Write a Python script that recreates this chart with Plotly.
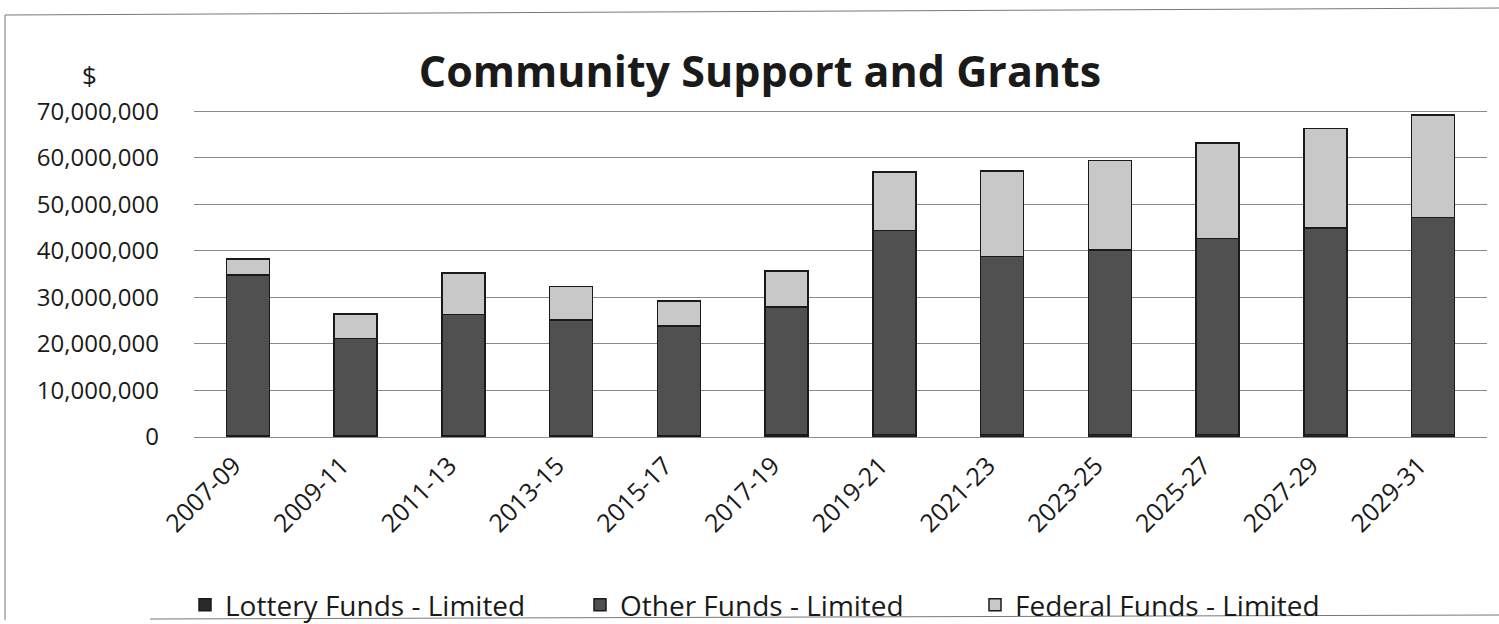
import plotly.graph_objects as go

categories = ["2007-09", "2009-11", "2011-13", "2013-15", "2015-17", "2017-19",
              "2019-21", "2021-23", "2023-25", "2025-27", "2027-29", "2029-31"]

# values in dollars
lottery_funds = [300000, 300000, 300000, 300000, 300000, 400000,
                 500000, 500000, 500000, 500000, 500000, 500000]
other_funds = [34500000, 20900000, 26000000, 24900000, 23600000, 27500000,
               43900000, 38300000, 39700000, 42200000, 44400000, 46700000]
federal_funds = [3500000, 5200000, 9000000, 7200000, 5300000, 7800000,
                 12600000, 18400000, 19200000, 20500000, 21400000, 22000000]

series_names = ["Lottery Funds - Limited", "Other Funds - Limited", "Federal Funds - Limited"]
series_colors = ["#2a2a2a", "#505050", "#c8c8c8"]

FONT = "Open Sans"

# plot-area geometry in pixels (used only to place paper-coordinate decorations)
W, H = 1499, 624
L, R, T, B = 194, 12, 110, 187
PW = W - L - R
PH = H - T - B


def px_x(px):
    return (px - L) / PW


def px_y(py):
    return (H - B - py) / PH


fig = go.Figure()
for name, vals, col in zip(series_names, [lottery_funds, other_funds, federal_funds], series_colors):
    fig.add_trace(go.Bar(
        x=categories, y=vals, name=name,
        marker=dict(color=col, line=dict(color="#1a1a1a", width=1.5)),
    ))

fig.update_layout(
    width=W, height=H,
    barmode="stack", bargap=0.6,
    paper_bgcolor="white", plot_bgcolor="white",
    margin=dict(l=L, r=R, t=T, b=B, autoexpand=False),
    font=dict(family=FONT, color="#1a1a1a"),
    title=dict(text="<b>Community Support and Grants</b>", font=dict(size=43, family=FONT, color="#1a1a1a"),
               x=px_x(760), xref="paper", xanchor="center",
               y=1 - 72 / H, yref="container", yanchor="middle"),
    showlegend=True,
    legend=dict(orientation="h", x=px_x(185), xanchor="left", y=px_y(605), yanchor="middle",
                font=dict(size=28, family=FONT, color="#1a1a1a"), bgcolor="rgba(0,0,0,0)",
                entrywidth=350, entrywidthmode="pixels", traceorder="normal"),
    annotations=[dict(text="$", x=px_x(90), y=px_y(75), xref="paper", yref="paper",
                      xanchor="center", yanchor="middle",
                      showarrow=False, font=dict(size=26, family=FONT, color="#1a1a1a"))],
    shapes=[
        dict(type="line", xref="paper", yref="paper", x0=px_x(5), x1=px_x(1499), y0=px_y(15), y1=px_y(8),
             line=dict(color="#777", width=1)),
        dict(type="line", xref="paper", yref="paper", x0=px_x(5), x1=px_x(5), y0=px_y(15), y1=px_y(620),
             line=dict(color="#777", width=1)),
        dict(type="line", xref="paper", yref="paper", x0=px_x(150), x1=px_x(1499), y0=px_y(619), y1=px_y(615),
             line=dict(color="#777", width=1)),
    ],
)

fig.update_xaxes(type="category", tickangle=-45, tickfont=dict(size=25, family=FONT, color="#1a1a1a"),
                 showgrid=False, showline=False, ticks="", automargin=False,
                 ticklabelstandoff=8, ticklabelshift=-14)
fig.update_yaxes(range=[0, 70300000], tickvals=[0, 10000000, 20000000, 30000000, 40000000,
                                                 50000000, 60000000, 70000000],
                 tickformat=",d", automargin=False,
                 tickfont=dict(size=24, family=FONT, color="#1a1a1a"),
                 showgrid=True, gridcolor="#8a8a8a", gridwidth=1, zeroline=True,
                 zerolinecolor="#8a8a8a", zerolinewidth=1, ticklabelstandoff=34)

fig.write_html("out.html")
